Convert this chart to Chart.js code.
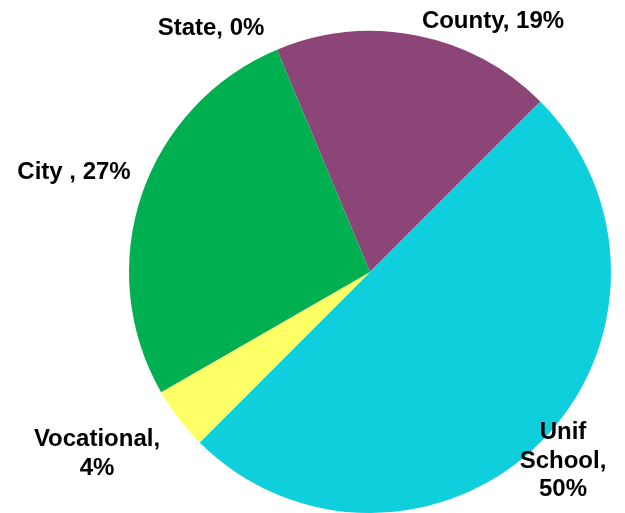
<!DOCTYPE html>
<html>
<head>
<meta charset="utf-8">
<script src="https://cdn.jsdelivr.net/npm/chart.js@4/dist/chart.umd.min.js"></script>
<style>
  html, body { margin: 0; padding: 0; background: #fff; }
  #wrap { width: 625px; height: 513px; position: relative; }
</style>
</head>
<body>
<div id="wrap"><canvas id="pie"></canvas></div>
<script>
// slice order follows the picture clockwise, starting where the 0% State slice sits
const categories = ["County", "Unif School", "Vocational", "City", "State"];
const shares = [18.8, 50.0, 4.2, 27.0, 0.0];
const labelLines = [
  ["County, 19%"],
  ["Unif", "School,", "50%"],
  ["Vocational,", "4%"],
  ["City , 27%"],
  ["State, 0%"],
];
const sliceColors = ["#8b4577", "#0ecfdb", "#ffff66", "#00b050", "#4f81bd"];

// label anchors, pixel offsets from pie centre
const labelOffsets = [
  [123, -251],
  [193, 189],
  [-273, 182],
  [-296, -100],
  [-159, -244],
];

const outsideLabels = {
  id: "outsideLabels",
  afterDatasetsDraw(chart) {
    const ctx = chart.ctx;
    const arc = chart.getDatasetMeta(0).data[0];
    const cx = arc.x, cy = arc.y;
    const lh = 28.5;
    ctx.save();
    ctx.font = "bold 24px 'Liberation Sans', Arial, sans-serif";
    ctx.fillStyle = "#000";
    ctx.textAlign = "center";
    ctx.textBaseline = "middle";
    labelLines.forEach((lines, i) => {
      const [ox, oy] = labelOffsets[i];
      const y0 = cy + oy - ((lines.length - 1) * lh) / 2;
      lines.forEach((t, j) => ctx.fillText(t, cx + ox, y0 + j * lh));
    });
    ctx.restore();
  },
};

new Chart(document.getElementById("pie"), {
  type: "pie",
  data: {
    labels: categories,
    datasets: [
      {
        data: shares,
        backgroundColor: sliceColors,
        borderWidth: 0,
      },
    ],
  },
  options: {
    responsive: true,
    maintainAspectRatio: false,
    animation: false,
    rotation: -22.7,
    layout: { padding: { left: 115, right: 0, top: 31, bottom: 0 } },
    plugins: {
      legend: { display: false },
      tooltip: { enabled: false },
    },
  },
  plugins: [outsideLabels],
});
</script>
</body>
</html>
